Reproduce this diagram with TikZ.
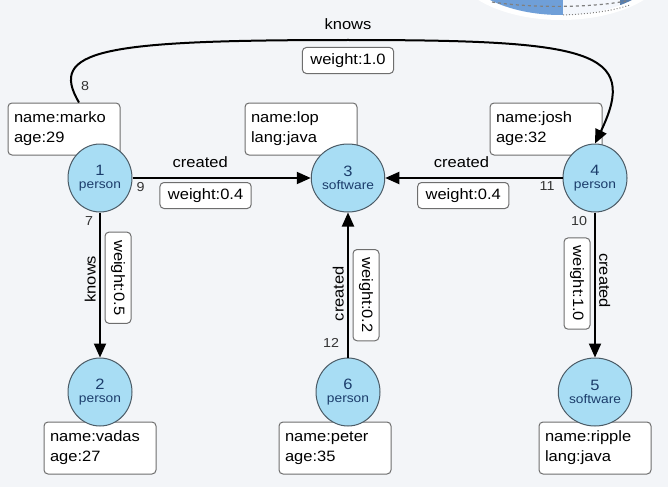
\documentclass[tikz,border=0pt]{standalone}
\usepackage{fontspec}
\setmainfont{Liberation Sans}[FakeStretch=1.1]
\usetikzlibrary{shapes.geometric,arrows.meta}
\definecolor{bgcol}{HTML}{F3F5F8}
\definecolor{vfill}{HTML}{A8DDF4}
\definecolor{vline}{HTML}{4B5B66}
\definecolor{vtext}{HTML}{1C3D6B}
\definecolor{boxline}{HTML}{6E6E6E}
\definecolor{globe}{HTML}{6F9FD8}
\newcommand{\vlabel}[2]{{\fontsize{15}{17}\selectfont #1}\\[1pt]{\fontsize{12.5}{14}\selectfont #2}}
\tikzset{
  vertex/.style={ellipse, draw=vline, line width=1pt, fill=vfill, minimum width=64pt,
    minimum height=68pt, inner sep=0pt, align=center, text=vtext},
  props/.style={draw=boxline, line width=1pt, rounded corners=4pt, fill=white, text width=100pt,
    inner xsep=6pt, minimum height=52pt, align=left, font=\fontsize{15}{20}\selectfont},
  weight/.style={draw=boxline, line width=1pt, rounded corners=4pt, fill=white, minimum height=26pt,
    inner xsep=8pt, inner ysep=0pt, font=\fontsize{15}{18}\selectfont},
  elabel/.style={font=\fontsize{15}{18}\selectfont},
  eid/.style={font=\fontsize{13}{15}\selectfont, text=black!80, inner sep=3pt},
  edge/.style={line width=2pt, -{Triangle[length=14pt,width=12pt]}}
}
\begin{document}
\begin{tikzpicture}[x=1pt, y=-1pt]
% Background
\fill[bgcol] (0,0) rectangle (668,487);
\useasboundingbox (0,0) rectangle (668,487);

% Corner of the slide picture
\begin{scope}
\clip (0,0) rectangle (668,487);
\fill[white] (561,-36) ellipse (108 and 56);
\fill[globe!8] (561,-36) ellipse (100 and 51);
\begin{scope}
\clip (561,-36) ellipse (100 and 51);
\fill[globe] (440,-10) rectangle (563,30);
\fill[globe!80!black] (620,-10) rectangle (634,5);
\end{scope}
\draw[dashed, gray, line width=1.2pt] (492,2) .. controls (530,8) and (590,8) .. (626,1);
\draw[dotted, gray, line width=1pt] (563,15) .. controls (590,14) and (612,11) .. (630,5);
\end{scope}

% Property boxes
\node[props] (marko) at (64,129) {name:marko\\age:29};
\node[props] (lop) at (301,129) {name:lop\\lang:java};
\node[props] (josh) at (546,129) {name:josh\\age:32};
\node[props] (vadas) at (100,448) {name:vadas\\age:27};
\node[props] (peter) at (335,448) {name:peter\\age:35};
\node[props] (ripple) at (595,448) {name:ripple\\lang:java};

% Vertices
\node[vertex] (n1) at (100,178) {\vlabel{1}{person}};
\node[vertex] (n3) at (348,178) {\vlabel{3}{software}};
\node[vertex] (n4) at (595,178) {\vlabel{4}{person}};
\node[vertex] (n2) at (100,392) {\vlabel{2}{person}};
\node[vertex] (n6) at (348,392) {\vlabel{6}{person}};
\node[vertex] (n5) at (595,392) {\vlabel{5}{software}};

% Edges
\draw[edge] ([xshift=15pt]marko.north) .. controls (48,50) and (100,40) .. (348,40)
  node[above=6pt, elabel] (k8) {knows} node[below=7pt, weight] (w8) {weight:1.0}
  .. controls (590,40) and (640,50) .. (n4.north);
\node[eid, anchor=south west, yshift=9pt, xshift=-1pt] (e8) at ([xshift=15pt]marko.north) {8};

\draw[edge] (n1) -- (n3)
  node[pos=.38, above=6pt, elabel] {created}
  node[pos=.41, below=4pt, weight] {weight:0.4}
  node[at start, eid, anchor=north west] {9};
\draw[edge] (n4) -- (n3)
  node[pos=.57, above=6pt, elabel] {created}
  node[pos=.56, below=4pt, weight] {weight:0.4}
  node[at start, eid, anchor=north east, xshift=-4pt] {11};
\draw[edge] (n1) -- (n2)
  node[pos=.46, rotate=90, anchor=south, elabel] {knows}
  node[pos=.45, rotate=-90, anchor=south, weight, outer sep=5pt] {weight:0.5}
  node[at start, eid, anchor=north east, xshift=-3pt] {7};
\draw[edge] (n6) -- (n3)
  node[pos=.44, rotate=90, anchor=south, elabel] {created}
  node[pos=.43, rotate=-90, anchor=south, weight, outer sep=5pt] {weight:0.2}
  node[pos=.1, eid, anchor=east, inner sep=8pt] {12};
\draw[edge] (n4) -- (n5)
  node[pos=.49, rotate=-90, anchor=north, weight, outer sep=5pt] {weight:1.0}
  node[pos=.47, rotate=-90, anchor=south, elabel] {created}
  node[at start, eid, anchor=north east, xshift=-4pt] {10};
\end{tikzpicture}
\end{document}
